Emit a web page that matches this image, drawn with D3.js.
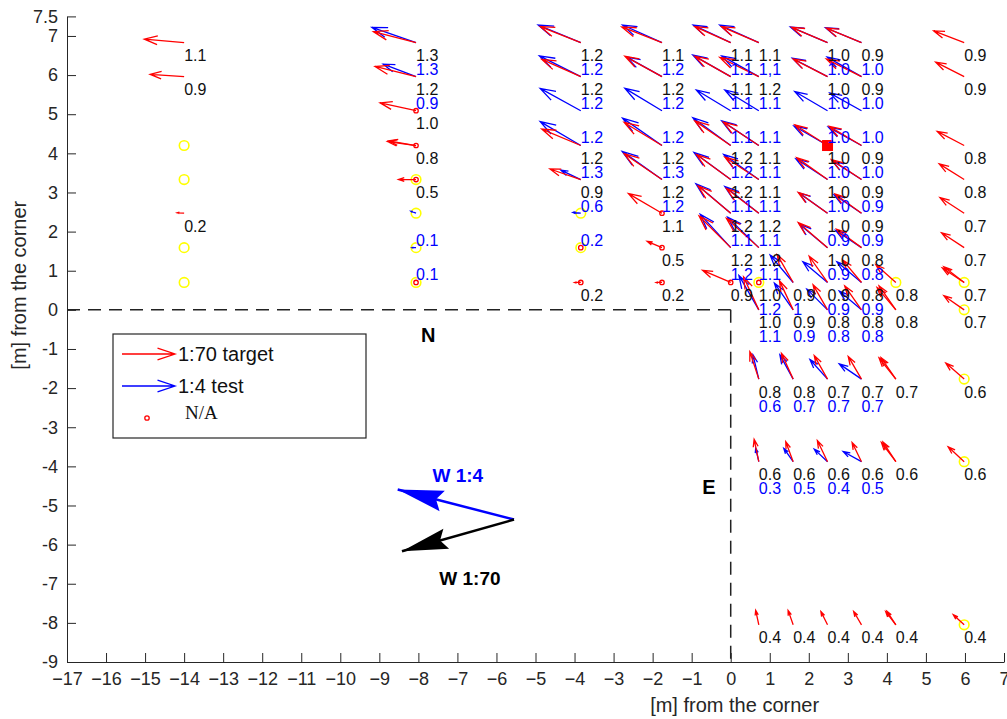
<!DOCTYPE html>
<html>
<head>
<meta charset="utf-8">
<script src="https://cdn.jsdelivr.net/npm/d3@7"></script>
<style>
body { margin: 0; background: #fff; }
text { font-family: "Liberation Sans", Arial, Helvetica, sans-serif; }
</style>
</head>
<body>
<svg width="1007" height="719"></svg>
<script>
//velocity field, 1:70 target (red) vs 1:4 test (blue)

var xTicks = [-17,-16,-15,-14,-13,-12,-11,-10,-9,-8,-7,-6,-5,-4,-3,-2,-1,0,1,2,3,4,5,6,7];
var yTicks = [-9,-8,-7,-6,-5,-4,-3,-2,-1,0,1,2,3,4,5,6,7,7.5];

//[x, y, u, v] in metres
var redArrows = [
  [-14, 6.83, -1.02, 0.09], [-14, 5.96, -0.87, 0.06], [-14, 2.47, -0.18, 0.01],
  [-8.06, 6.83, -1.09, 0.28], [-8.06, 5.96, -1.05, 0.26], [-8.06, 5.09, -0.92, 0.20],
  [-8.06, 4.20, -0.73, 0.10], [-8.06, 4.20, -0.70, 0.12], [-8.06, 3.33, -0.45, 0.0],
  [-3.84, 6.83, -1.04, 0.41], [-3.84, 5.96, -1.00, 0.44], [-3.84, 4.20, -1.00, 0.42],
  [-3.84, 3.33, -0.79, 0.27], [-3.84, 0.70, -0.16, 0.0],
  [-1.76, 6.83, -1.03, 0.40], [-1.76, 5.96, -0.95, 0.52], [-1.76, 4.20, -0.97, 0.59],
  [-1.76, 3.33, -0.97, 0.66], [-1.76, 2.47, -0.86, 0.50], [-1.76, 1.59, -0.38, 0.16],
  [-1.76, 0.70, -0.15, 0.0],
  [0, 6.83, -0.92, 0.41], [0, 5.96, -0.92, 0.52], [0, 4.20, -0.92, 0.63], [0, 3.33, -0.88, 0.64],
  [0, 2.47, -0.84, 0.70], [0, 1.59, -0.81, 0.81], [0, 0.70, -0.72, 0.31],
  [0.72, 6.83, -0.96, 0.41], [0.72, 5.96, -1.00, 0.49], [0.72, 4.20, -0.91, 0.60],
  [0.72, 3.33, -0.87, 0.57], [0.72, 2.47, -0.83, 0.63], [0.72, 1.59, -0.83, 0.75],
  [0.72, 0, -0.39, 0.84],
  [1.6, 0.70, -0.41, 0.71], [1.6, 0, -0.35, 0.74],
  [2.48, 6.83, -0.92, 0.39], [2.48, 5.96, -0.88, 0.45], [2.48, 4.20, -0.84, 0.53],
  [2.48, 3.33, -0.79, 0.56], [2.48, 2.47, -0.75, 0.53], [2.48, 1.59, -0.75, 0.64],
  [2.48, 0.70, -0.47, 0.67], [2.48, 0, -0.37, 0.64],
  [3.35, 6.83, -0.90, 0.37], [3.35, 5.96, -0.90, 0.45], [3.35, 4.20, -0.83, 0.49],
  [3.35, 3.33, -0.77, 0.51], [3.35, 2.47, -0.68, 0.49], [3.35, 1.59, -0.64, 0.47],
  [3.35, 0.70, -0.48, 0.57], [3.35, 0, -0.43, 0.61],
  [4.23, 0.70, -0.51, 0.45], [4.23, 0, -0.43, 0.61], [4.23, 0, -0.48, 0.57],
  [5.98, 6.83, -0.78, 0.30], [5.98, 5.96, -0.73, 0.37], [5.98, 4.20, -0.69, 0.36],
  [5.98, 3.33, -0.64, 0.40], [5.98, 2.47, -0.62, 0.40], [5.98, 1.59, -0.58, 0.38],
  [5.98, 0.70, -0.56, 0.37], [5.98, 0.70, -0.52, 0.40], [5.98, 0, -0.52, 0.36],
  [0.72, -1.77, -0.23, 0.70], [1.6, -1.77, -0.30, 0.66], [2.48, -1.77, -0.34, 0.60],
  [3.35, -1.77, -0.34, 0.58], [4.23, -1.77, -0.43, 0.54], [4.23, -1.77, -0.38, 0.55],
  [5.98, -1.77, -0.47, 0.41],
  [0.72, -3.88, -0.12, 0.57], [1.6, -3.88, -0.19, 0.51], [2.48, -3.88, -0.26, 0.54],
  [3.35, -3.88, -0.24, 0.49], [4.23, -3.88, -0.37, 0.49], [4.23, -3.88, -0.33, 0.50],
  [5.98, -3.88, -0.41, 0.38],
  [0.72, -8.05, -0.08, 0.37], [1.6, -8.05, -0.13, 0.37], [2.48, -8.05, -0.17, 0.34],
  [3.35, -8.05, -0.20, 0.34], [4.23, -8.05, -0.26, 0.34], [4.23, -8.05, -0.23, 0.35],
  [5.98, -8.05, -0.28, 0.26]
];

var blueArrows = [
  [-8.06, 6.83, -1.13, 0.39], [-8.06, 5.96, -0.84, 0.32], [-8.06, 2.47, -0.13, 0.05],
  [-8.06, 1.59, -0.10, 0.0],
  [-3.84, 6.83, -1.09, 0.45], [-3.84, 5.96, -1.06, 0.53], [-3.84, 5.09, -1.04, 0.57],
  [-3.84, 4.20, -1.04, 0.61], [-3.84, 3.33, -0.51, 0.24], [-3.84, 2.47, -0.20, 0.02],
  [-1.76, 6.83, -1.01, 0.45], [-1.76, 5.96, -0.90, 0.50], [-1.76, 5.09, -0.95, 0.57],
  [-1.76, 4.20, -1.01, 0.70], [-1.76, 3.33, -1.02, 0.72],
  [0, 6.83, -0.96, 0.45], [0, 5.96, -0.97, 0.55], [0, 5.09, -0.88, 0.53], [0, 4.20, -0.97, 0.71],
  [0, 3.33, -0.94, 0.69], [0, 2.47, -0.89, 0.75], [0, 1.59, -0.78, 0.85],
  [0.72, 6.83, -1.00, 0.45], [0.72, 5.96, -0.95, 0.53], [0.72, 5.09, -0.87, 0.53],
  [0.72, 4.20, -0.95, 0.63], [0.72, 3.33, -0.90, 0.64], [0.72, 2.47, -0.87, 0.68],
  [0.72, 1.59, -0.80, 0.78], [0.72, 0, -0.51, 0.88],
  [1.6, 0.70, -0.59, 0.70], [1.6, 0, -0.48, 0.68],
  [2.48, 6.83, -0.95, 0.40], [2.48, 5.96, -0.90, 0.47], [2.48, 5.09, -0.84, 0.49],
  [2.48, 4.20, -0.86, 0.50], [2.48, 3.33, -0.81, 0.53], [2.48, 2.47, -0.73, 0.52],
  [2.48, 1.59, -0.72, 0.60], [2.48, 0.70, -0.63, 0.53], [2.48, 0, -0.53, 0.53],
  [3.35, 6.83, -0.92, 0.38], [3.35, 5.96, -0.88, 0.50], [3.35, 5.09, -0.81, 0.45],
  [3.35, 4.20, -0.85, 0.47], [3.35, 3.33, -0.75, 0.48], [3.35, 2.47, -0.70, 0.47],
  [3.35, 1.59, -0.66, 0.44], [3.35, 0.70, -0.63, 0.53], [3.35, 0, -0.57, 0.48],
  [0.72, -1.77, -0.15, 0.62], [1.6, -1.77, -0.34, 0.62], [2.48, -1.77, -0.45, 0.50],
  [3.35, -1.77, -0.57, 0.39],
  [0.72, -3.88, -0.08, 0.34], [1.6, -3.88, -0.24, 0.34], [2.48, -3.88, -0.34, 0.32],
  [3.35, -3.88, -0.47, 0.26]
];

//[x, y, text] 1:70 values (black)
var blackLabels = [
  [-14, 6.83, "1.1"], [-14, 5.96, "0.9"], [-14, 2.47, "0.2"],
  [-8.06, 6.83, "1.3"], [-8.06, 5.96, "1.2"], [-8.06, 5.09, "1.0"], [-8.06, 4.20, "0.8"], [-8.06, 3.33, "0.5"],
  [-3.84, 6.83, "1.2"], [-3.84, 5.96, "1.2"], [-3.84, 4.20, "1.2"], [-3.84, 3.33, "0.9"], [-3.84, 0.70, "0.2"],
  [-1.76, 6.83, "1.1"], [-1.76, 5.96, "1.2"], [-1.76, 4.20, "1.2"], [-1.76, 3.33, "1.2"],
  [-1.76, 2.47, "1.1"], [-1.76, 1.59, "0.5"], [-1.76, 0.70, "0.2"],
  [0, 6.83, "1.1"], [0, 5.96, "1.1"], [0, 4.20, "1.2"], [0, 3.33, "1.2"], [0, 2.47, "1.2"],
  [0, 1.59, "1.2"], [0, 0.70, "0.9"],
  [0.72, 6.83, "1.1"], [0.72, 5.96, "1.2"], [0.72, 4.20, "1.1"], [0.72, 3.33, "1.1"],
  [0.72, 2.47, "1.2"], [0.72, 1.59, "1.2"], [0.72, 0.70, "1.0"], [0.72, 0, "1.0"],
  [0.72, -1.77, "0.8"], [0.72, -3.88, "0.6"], [0.72, -8.05, "0.4"],
  [1.6, 0.70, "0.9"], [1.6, 0, "0.9"], [1.6, -1.77, "0.8"], [1.6, -3.88, "0.6"], [1.6, -8.05, "0.4"],
  [2.48, 6.83, "1.0"], [2.48, 5.96, "1.0"], [2.48, 4.20, "1.0"], [2.48, 3.33, "1.0"],
  [2.48, 2.47, "1.0"], [2.48, 1.59, "1.0"], [2.48, 0.70, "0.9"], [2.48, 0, "0.8"],
  [2.48, -1.77, "0.7"], [2.48, -3.88, "0.6"], [2.48, -8.05, "0.4"],
  [3.35, 6.83, "0.9"], [3.35, 5.96, "0.9"], [3.35, 4.20, "0.9"], [3.35, 3.33, "0.9"],
  [3.35, 2.47, "0.9"], [3.35, 1.59, "0.8"], [3.35, 0.70, "0.8"], [3.35, 0, "0.8"],
  [3.35, -1.77, "0.7"], [3.35, -3.88, "0.6"], [3.35, -8.05, "0.4"],
  [4.23, 0.70, "0.8"], [4.23, 0, "0.8"], [4.23, -1.77, "0.7"], [4.23, -3.88, "0.6"], [4.23, -8.05, "0.4"],
  [5.98, 6.83, "0.9"], [5.98, 5.96, "0.9"], [5.98, 4.20, "0.8"], [5.98, 3.33, "0.8"],
  [5.98, 2.47, "0.7"], [5.98, 1.59, "0.7"], [5.98, 0.70, "0.7"], [5.98, 0, "0.7"],
  [5.98, -1.77, "0.6"], [5.98, -3.88, "0.6"], [5.98, -8.05, "0.4"]
];

//[x, y, text] 1:4 values (blue)
var blueLabels = [
  [-8.06, 6.83, "1.3"], [-8.06, 5.96, "0.9"], [-8.06, 2.47, "0.1"], [-8.06, 1.59, "0.1"],
  [-3.84, 6.83, "1.2"], [-3.84, 5.96, "1.2"], [-3.84, 5.09, "1.2"], [-3.84, 4.20, "1.3"],
  [-3.84, 3.33, "0.6"], [-3.84, 2.47, "0.2"],
  [-1.76, 6.83, "1.2"], [-1.76, 5.96, "1.2"], [-1.76, 5.09, "1.2"], [-1.76, 4.20, "1.3"], [-1.76, 3.33, "1.2"],
  [0, 6.83, "1.1"], [0, 5.96, "1.1"], [0, 5.09, "1.1"], [0, 4.20, "1.2"], [0, 3.33, "1.1"],
  [0, 2.47, "1.1"], [0, 1.59, "1.2"],
  [0.72, 6.83, "1,1"], [0.72, 5.96, "1.1"], [0.72, 5.09, "1.1"], [0.72, 4.20, "1.1"],
  [0.72, 3.33, "1.1"], [0.72, 2.47, "1.1"], [0.72, 1.59, "1.1"], [0.72, 0.70, "1.2"],
  [0.72, 0, "1.1"], [0.72, -1.77, "0.6"], [0.72, -3.88, "0.3"],
  [1.6, 0.70, "1"], [1.6, 0, "0.9"], [1.6, -1.77, "0.7"], [1.6, -3.88, "0.5"],
  [2.48, 6.83, "1.0"], [2.48, 5.96, "1.0"], [2.48, 5.09, "1.0"], [2.48, 4.20, "1.0"],
  [2.48, 3.33, "1.0"], [2.48, 2.47, "0.9"], [2.48, 1.59, "0.9"], [2.48, 0.70, "0.9"],
  [2.48, 0, "0.8"], [2.48, -1.77, "0.7"], [2.48, -3.88, "0.4"],
  [3.35, 6.83, "1.0"], [3.35, 5.96, "1.0"], [3.35, 5.09, "1.0"], [3.35, 4.20, "1.0"],
  [3.35, 3.33, "0.9"], [3.35, 2.47, "0.9"], [3.35, 1.59, "0.8"], [3.35, 0.70, "0.9"],
  [3.35, 0, "0.8"], [3.35, -1.77, "0.7"], [3.35, -3.88, "0.5"]
];

var naPoints = [
  [-8.06, 5.09], [-8.06, 4.20], [-8.06, 3.33], [-8.06, 0.70], [-3.84, 1.59], [-3.84, 0.70],
  [-1.76, 2.47], [-1.76, 1.59], [-1.76, 0.70], [0, 0.70], [0.72, 0.70]
];

var yellowPoints = [
  [-14, 4.20], [-14, 3.33], [-14, 1.59], [-14, 0.70],
  [-8.06, 3.33], [-8.06, 2.47], [-8.06, 1.59], [-8.06, 0.70],
  [-3.84, 2.47], [-3.84, 1.59],
  [0.72, 0.70], [4.23, 0.70], [5.98, 0.70], [5.98, 0], [5.98, -1.77], [5.98, -3.88], [5.98, -8.05]
];

var squarePoints = [[2.48, 4.20]];

//wind direction annotation
var windArrows = [
  {name: "W 1:4", color: "#0000ff", from: [-5.55, -5.36], to: [-8.53, -4.59], label: [-6.99, -4.22]},
  {name: "W 1:70", color: "#000000", from: [-5.55, -5.36], to: [-8.42, -6.17], label: [-6.68, -6.85]}
];

var compassLabels = [["N", -7.75, -0.65], ["E", -0.56, -4.52]];

var legendItems = ["1:70 target", "1:4 test", "N/A"];


var svg = d3.select("svg"),
  width = +svg.attr("width"),
  height = +svg.attr("height");

svg.append("rect").attr("width", width).attr("height", height).attr("fill", "#fff");

var x = d3.scaleLinear().domain([-17, 7]).range([67, 1004]);
var y = d3.scaleLinear().domain([-9, 7.5]).range([662, 16.4]);

var axisColor = "#262626";

//axes, ticks inside like matlab
var xAxis = svg.append("g")
  .attr("transform", "translate(0," + y(-9) + ")")
  .call(d3.axisBottom(x).tickValues(xTicks).tickFormat(d3.format("d")).tickSize(-9).tickSizeOuter(0).tickPadding(10));
var yAxis = svg.append("g")
  .attr("transform", "translate(" + x(-17) + ",0)")
  .call(d3.axisLeft(y).tickValues(yTicks).tickFormat(function(d) { return d; }).tickSize(-9).tickSizeOuter(0).tickPadding(9));

[xAxis, yAxis].forEach(function(a) {
  a.selectAll("path, line").attr("stroke", axisColor);
  a.selectAll("text").attr("fill", axisColor).style("font-size", "18px")
    .style("font-family", "'Liberation Sans', Arial, sans-serif");
});

svg.append("text")
  .attr("x", x(0.1)).attr("y", 712)
  .attr("text-anchor", "middle")
  .attr("fill", axisColor)
  .style("font-size", "20px")
  .text("[m] from the corner");

svg.append("text")
  .attr("transform", "translate(26," + y(0.63) + ") rotate(-90)")
  .attr("text-anchor", "middle")
  .attr("fill", axisColor)
  .style("font-size", "20px")
  .text("[m] from the corner");

//building corner outline
var g = svg.append("g").attr("class", "everything");

g.append("line")
  .attr("x1", x(-17)).attr("y1", y(0)).attr("x2", x(0)).attr("y2", y(0))
  .attr("stroke", "#222").attr("stroke-width", 1.5).attr("stroke-dasharray", "13,8");
g.append("line")
  .attr("x1", x(0)).attr("y1", y(0)).attr("x2", x(0)).attr("y2", y(-9))
  .attr("stroke", "#222").attr("stroke-width", 1.5).attr("stroke-dasharray", "13,8");

g.selectAll(".compass")
  .data(compassLabels)
  .enter().append("text")
  .attr("class", "compass")
  .attr("x", function(d) { return x(d[1]); })
  .attr("y", function(d) { return y(d[2]); })
  .attr("dy", "0.35em")
  .attr("text-anchor", "middle")
  .style("font-size", "20px")
  .style("font-weight", "bold")
  .text(function(d) { return d[0]; });

//matlab style quiver: shaft + open head
function quiverPath(x0, y0, x1, y1) {
  var du = x1 - x0, dv = y1 - y0;
  var a = 0.33, b = 0.33;
  var hx1 = x1 - a * (du + b * dv), hy1 = y1 - a * (dv - b * du);
  var hx2 = x1 - a * (du - b * dv), hy2 = y1 - a * (dv + b * du);
  return "M" + x0 + "," + y0 + "L" + x1 + "," + y1 +
    "M" + hx1 + "," + hy1 + "L" + x1 + "," + y1 + "L" + hx2 + "," + hy2;
}

function arrowD(d) {
  return quiverPath(x(d[0]), y(d[1]), x(d[0] + d[2]), y(d[1] + d[3]));
}

//yellow circles
g.append("g").selectAll("circle")
  .data(yellowPoints)
  .enter().append("circle")
  .attr("cx", function(d) { return x(d[0]); })
  .attr("cy", function(d) { return y(d[1]); })
  .attr("r", 4.8)
  .attr("fill", "none")
  .attr("stroke", "#ffff00")
  .attr("stroke-width", 1.6);

g.append("g").selectAll("path")
  .data(blueArrows)
  .enter().append("path")
  .attr("d", arrowD)
  .attr("fill", "none")
  .attr("stroke", "#0000ff")
  .attr("stroke-width", 1.3);

g.append("g").selectAll("path")
  .data(redArrows)
  .enter().append("path")
  .attr("d", arrowD)
  .attr("fill", "none")
  .attr("stroke", "#ff0000")
  .attr("stroke-width", 1.3);

g.append("g").selectAll("circle")
  .data(naPoints)
  .enter().append("circle")
  .attr("cx", function(d) { return x(d[0]); })
  .attr("cy", function(d) { return y(d[1]); })
  .attr("r", 2.2)
  .attr("fill", "none")
  .attr("stroke", "#ff0000")
  .attr("stroke-width", 1.3);

g.append("g").selectAll("rect")
  .data(squarePoints)
  .enter().append("rect")
  .attr("x", function(d) { return x(d[0]) - 5.5; })
  .attr("y", function(d) { return y(d[1]) - 5.5; })
  .attr("width", 11).attr("height", 11)
  .attr("fill", "#ff0000");

//value labels: 1:70 below the point, 1:4 one line further down
g.append("g").selectAll("text")
  .data(blackLabels)
  .enter().append("text")
  .attr("x", function(d) { return x(d[0]); })
  .attr("y", function(d) { return y(d[1]) + 13; })
  .attr("dy", "0.35em")
  .attr("fill", "#111")
  .style("font-size", "16px")
  .text(function(d) { return d[2]; });

g.append("g").selectAll("text")
  .data(blueLabels)
  .enter().append("text")
  .attr("x", function(d) { return x(d[0]); })
  .attr("y", function(d) { return y(d[1]) + 27; })
  .attr("dy", "0.35em")
  .attr("fill", "#0000ff")
  .style("font-size", "16px")
  .text(function(d) { return d[2]; });

//wind arrows with filled heads (vback style)
function windHead(x0, y0, x1, y1) {
  var L = Math.sqrt((x1 - x0) * (x1 - x0) + (y1 - y0) * (y1 - y0));
  var ux = (x1 - x0) / L, uy = (y1 - y0) / L;
  var hl = 46, hw = 10.5;
  var bx = x1 - ux * hl, by = y1 - uy * hl;
  var nx = x1 - ux * hl * 0.86, ny = y1 - uy * hl * 0.86;
  return "M" + x1 + "," + y1 +
    "L" + (bx - uy * hw) + "," + (by + ux * hw) +
    "L" + nx + "," + ny +
    "L" + (bx + uy * hw) + "," + (by - ux * hw) + "Z";
}

var wind = g.append("g").selectAll("g")
  .data(windArrows)
  .enter().append("g");

wind.append("line")
  .attr("x1", function(d) { return x(d.from[0]); })
  .attr("y1", function(d) { return y(d.from[1]); })
  .attr("x2", function(d) { return x(d.to[0]); })
  .attr("y2", function(d) { return y(d.to[1]); })
  .attr("stroke", function(d) { return d.color; })
  .attr("stroke-width", 2.5);

wind.append("path")
  .attr("d", function(d) { return windHead(x(d.from[0]), y(d.from[1]), x(d.to[0]), y(d.to[1])); })
  .attr("fill", function(d) { return d.color; });

wind.append("text")
  .attr("x", function(d) { return x(d.label[0]); })
  .attr("y", function(d) { return y(d.label[1]); })
  .attr("dy", "0.35em")
  .attr("text-anchor", "middle")
  .attr("fill", function(d) { return d.color; })
  .style("font-size", "19px")
  .style("font-weight", "bold")
  .text(function(d) { return d.name; });

//legend
var legend = svg.append("g").attr("transform", "translate(113,334)");

legend.append("rect")
  .attr("width", 253).attr("height", 104)
  .attr("fill", "#fff")
  .attr("stroke", axisColor)
  .attr("stroke-width", 1.2);

var legendColors = ["#ff0000", "#0000ff"];

legend.selectAll(".lg-arrow")
  .data(legendColors)
  .enter().append("path")
  .attr("class", "lg-arrow")
  .attr("d", function(d, i) { return quiverPath(9, 20 + i * 32, 62, 20 + i * 32); })
  .attr("fill", "none")
  .attr("stroke", function(d) { return d; })
  .attr("stroke-width", 1.3);

legend.append("circle")
  .attr("cx", 34).attr("cy", 84).attr("r", 2.2)
  .attr("fill", "none").attr("stroke", "#ff0000").attr("stroke-width", 1.3);

legend.selectAll(".lg-text")
  .data(legendItems)
  .enter().append("text")
  .attr("class", "lg-text")
  .attr("x", function(d, i) { return i < 2 ? 65 : 72; })
  .attr("y", function(d, i) { return i < 2 ? 20 + i * 32 : 78; })
  .attr("dy", "0.35em")
  .attr("fill", "#111")
  .style("font-size", function(d, i) { return i < 2 ? "20px" : "19px"; })
  .style("font-family", function(d, i) { return i < 2 ? null : "'Liberation Serif', 'Times New Roman', serif"; })
  .text(function(d) { return d; });
</script>
</body>
</html>
